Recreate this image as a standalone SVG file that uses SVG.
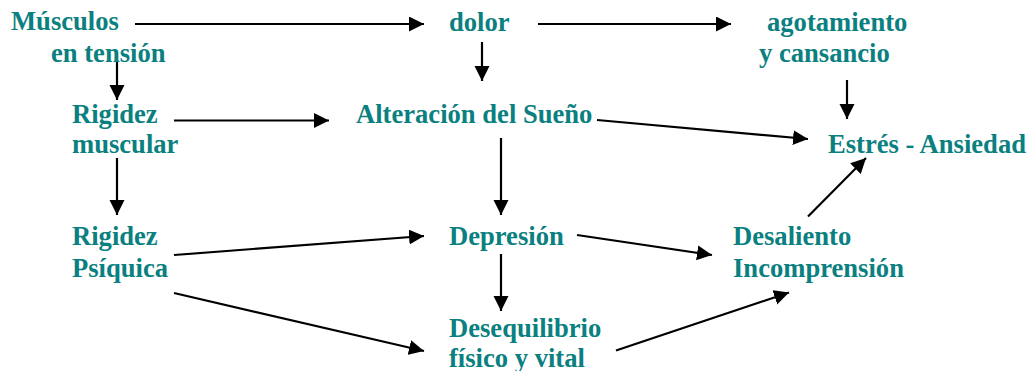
<svg xmlns="http://www.w3.org/2000/svg" width="1033" height="371" viewBox="0 0 1033 371">
<style>
text{font-family:"Liberation Serif","Times New Roman",serif;font-weight:bold;font-size:26.6px;fill:#0a8080}
.c line{stroke:#000;stroke-width:2.2;marker-end:url(#ah)}
</style>
<defs>
<marker id="ah" markerUnits="userSpaceOnUse" markerWidth="16" markerHeight="16" refX="15" refY="7.5" orient="auto">
<path d="M0,0 L15,7.5 L0,15 z" fill="#000"/>
</marker>
</defs>
<rect width="1033" height="371" fill="#fff"/>
<g class="c" id="connectors">
<line x1="135" y1="24" x2="424" y2="24"/>
<line x1="538" y1="24" x2="731" y2="24"/>
<line x1="117" y1="62" x2="117" y2="100"/>
<line x1="174" y1="120.5" x2="329" y2="120.5"/>
<line x1="482" y1="42" x2="482" y2="81"/>
<line x1="847" y1="80" x2="847" y2="119"/>
<line x1="597" y1="120" x2="808" y2="139"/>
<line x1="117" y1="158" x2="117" y2="215"/>
<line x1="501" y1="138" x2="501" y2="215"/>
<line x1="174" y1="255" x2="424" y2="236"/>
<line x1="174" y1="293" x2="424" y2="351"/>
<line x1="577" y1="235" x2="712" y2="255"/>
<line x1="501" y1="254" x2="501" y2="311"/>
<line x1="616" y1="350.5" x2="789" y2="292.5"/>
<line x1="808" y1="216.5" x2="866" y2="158"/>
</g>
<g id="musculos"><text x="11" y="30">Músculos</text><text x="51" y="62">en tensión</text></g>
<g id="dolor"><text x="449" y="31">dolor</text></g>
<g id="agotamiento"><text x="767" y="31">agotamiento</text><text x="759" y="62">y cansancio</text></g>
<g id="rigidez-muscular"><text x="72" y="123">Rigidez</text><text x="72" y="153">muscular</text></g>
<g id="alteracion"><text x="356" y="123">Alteración del Sueño</text></g>
<g id="estres"><text x="828" y="153">Estrés - Ansiedad</text></g>
<g id="rigidez-psiquica"><text x="72" y="245">Rigidez</text><text x="72" y="277">Psíquica</text></g>
<g id="depresion"><text x="449" y="245">Depresión</text></g>
<g id="desaliento"><text x="733" y="245">Desaliento</text><text x="733" y="277">Incomprensión</text></g>
<g id="desequilibrio"><text x="449" y="337">Desequilibrio</text><text x="449" y="367">físico y vital</text></g>
</svg>
